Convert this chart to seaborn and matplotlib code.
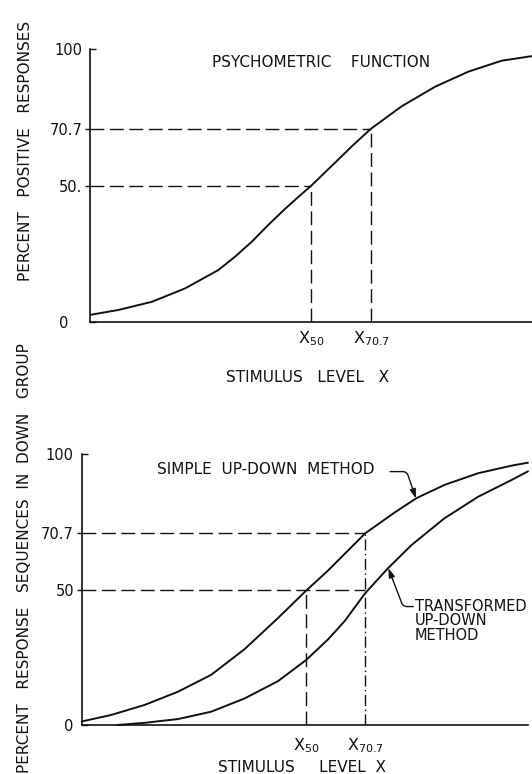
import matplotlib
matplotlib.use("Agg")
import matplotlib.pyplot as plt
import seaborn as sns
import pandas as pd

# ---------------- data ----------------
# Upper panel: psychometric function
psy_x = [0, 6.4, 14.0, 21.5, 29.0, 32.8, 36.6, 40.3, 44.1, 47.9, 50.1, 55.4, 59.2,
         63.5, 70.5, 78.1, 85.6, 93.1, 100]
psy_y = [2.6, 4.4, 7.4, 12.3, 19.0, 23.9, 29.4, 35.5, 41.4, 46.9, 50.0, 58.3, 64.3,
         70.7, 79.0, 86.2, 91.7, 95.7, 97.4]
top_x_marks = [50.1, 63.5]            # X50, X70.7
top_levels = [50, 70.7]
top_level_labels = ["50.", "70.7"]
top_end_labels = ["0   ", "100"]

# Lower panel: simple and transformed up-down methods
simple_x = [0, 6.6, 14.1, 21.6, 29.0, 36.5, 44.0, 50.3, 55.2, 63.5, 70.1, 75.0,
            81.3, 88.8, 96.3, 100]
simple_y = [1.3, 3.7, 7.4, 12.3, 18.5, 28.0, 39.5, 49.6, 57.0, 70.7, 78.4, 83.7,
            88.6, 92.9, 95.7, 96.8]
trans_x = [8.0, 14.1, 21.6, 29.0, 36.5, 44.0, 50.3, 55.2, 58.9, 63.5, 68.6, 73.9,
           81.3, 88.8, 96.3, 100]
trans_y = [0.0, 0.8, 2.2, 4.9, 9.8, 16.2, 24.0, 31.6, 38.3, 48.6, 57.8, 66.4,
           76.3, 84.2, 90.4, 93.6]
bot_x_marks = [50.3, 63.5]
bot_levels = [50, 70.7]
bot_level_labels = ["50", "70.7"]
bot_end_labels = ["0", "100"]

x_tick_labels = [r"X$_{50}$", r"X$_{70.7}$"]

# ---------------- style ----------------
sns.set_style("ticks")
plt.rcParams["font.family"] = ["DejaVu Sans"]
plt.rcParams["mathtext.default"] = "regular"
INK = "#111111"

fig = plt.figure(figsize=(5.32, 7.74), dpi=100)
ax1 = fig.add_axes([90 / 532, 1 - 322 / 774, 442 / 532, 273 / 774])
ax2 = fig.add_axes([81.7 / 532, 1 - 725 / 774, 446.3 / 532, 271 / 774])

def style_axes(ax, xmarks, levels, level_labels, end_labels, xpad):
    ax.set_xlim(0, 100)
    ax.set_ylim(0, 100)
    for s in ["top", "right"]:
        ax.spines[s].set_visible(False)
    for s in ["left", "bottom"]:
        ax.spines[s].set_linewidth(1.2)
        ax.spines[s].set_color(INK)
    ax.set_xticks(xmarks, labels=x_tick_labels)
    ax.tick_params(axis="x", length=0, pad=xpad, labelsize=11.5, colors=INK)
    ax.set_yticks(levels, labels=level_labels)
    ax.set_yticks([0, 100], labels=end_labels, minor=True)
    ax.tick_params(axis="y", which="major", direction="out", length=3.5,
                   width=1.0, pad=2, labelsize=10.5, colors=INK)
    ax.tick_params(axis="y", which="minor", direction="in", length=4,
                   width=1.0, pad=5.8, labelsize=10.5, colors=INK)
    ax.grid(False)

# ---------------- upper panel ----------------
df_top = pd.DataFrame({"x": psy_x, "y": psy_y})
sns.lineplot(data=df_top, x="x", y="y", ax=ax1, color=INK, lw=1.4,
             estimator=None, sort=False)
ax1.hlines(top_levels, 0, top_x_marks, colors=INK, lw=1.0,
           linestyles=(0, (10, 4)))
ax1.vlines(top_x_marks, 0, top_levels, colors=INK, lw=1.0,
           linestyles=(0, (10, 4)))
style_axes(ax1, top_x_marks, top_levels, top_level_labels, top_end_labels, 5.0)
ax1.text(27.6, 94.9, "PSYCHOMETRIC    FUNCTION", ha="left", va="center",
         fontsize=11, color=INK)
ax1.set_xlabel("STIMULUS   LEVEL   X", fontsize=11, color=INK, va="center")
ax1.xaxis.set_label_coords((308 - 90) / 442, (322 - 377) / 273)
ax1.set_ylabel("PERCENT   POSITIVE   RESPONSES", fontsize=11, color=INK,
               va="center")
ax1.yaxis.set_label_coords((26 - 90) / 442, (322 - 151) / 273)

# ---------------- lower panel ----------------
df_simple = pd.DataFrame({"x": simple_x, "y": simple_y})
df_trans = pd.DataFrame({"x": trans_x, "y": trans_y})
sns.lineplot(data=df_simple, x="x", y="y", ax=ax2, color=INK, lw=1.4,
             estimator=None, sort=False, clip_on=False)
sns.lineplot(data=df_trans, x="x", y="y", ax=ax2, color=INK, lw=1.4,
             estimator=None, sort=False, clip_on=False)
ax2.hlines(bot_levels, 0, bot_x_marks[1], colors=INK, lw=1.0,
           linestyles=(0, (10, 4)))
ax2.vlines(bot_x_marks[0], 0, bot_levels[0], colors=INK, lw=1.0,
           linestyles=(0, (10, 4)))
ax2.vlines(bot_x_marks[1], 0, bot_levels[1], colors=INK, lw=1.0,
           linestyles=(0, (8, 2.5, 1, 2.5)))
style_axes(ax2, bot_x_marks, bot_levels, bot_level_labels, bot_end_labels, 8.0)

ax2.text(16.9, 94.1, "SIMPLE  UP-DOWN  METHOD", ha="left", va="center",
         fontsize=11, color=INK)
ax2.annotate("", xy=(74.9, 83.6), xytext=(69.1, 93.5),
             arrowprops=dict(arrowstyle="-|>,head_length=0.55,head_width=0.18",
                             connectionstyle="angle,angleA=0,angleB=109,rad=4",
                             lw=1.0, color=INK, shrinkA=0, shrinkB=0))
ax2.text(74.7, 46.6, "TRANSFORMED\nUP-DOWN\nMETHOD", ha="left", va="top",
         fontsize=10.5, color=INK, linespacing=0.95)
ax2.annotate("", xy=(68.7, 57.9), xytext=(74.3, 43.7),
             arrowprops=dict(arrowstyle="-|>,head_length=0.55,head_width=0.18",
                             connectionstyle="angle,angleA=180,angleB=-69,rad=4",
                             lw=1.0, color=INK, shrinkA=0, shrinkB=0))
ax2.set_xlabel("STIMULUS     LEVEL  X", fontsize=11, color=INK, va="center")
ax2.xaxis.set_label_coords((302 - 81.7) / 446.3, (725 - 767.5) / 271)
ax2.set_ylabel("PERCENT   RESPONSE   SEQUENCES  IN  DOWN   GROUP",
               fontsize=11, color=INK, va="center")
ax2.yaxis.set_label_coords((25 - 81.7) / 446.3, (725 - 558) / 271)

fig.savefig("out.png", dpi=100, facecolor="white")
